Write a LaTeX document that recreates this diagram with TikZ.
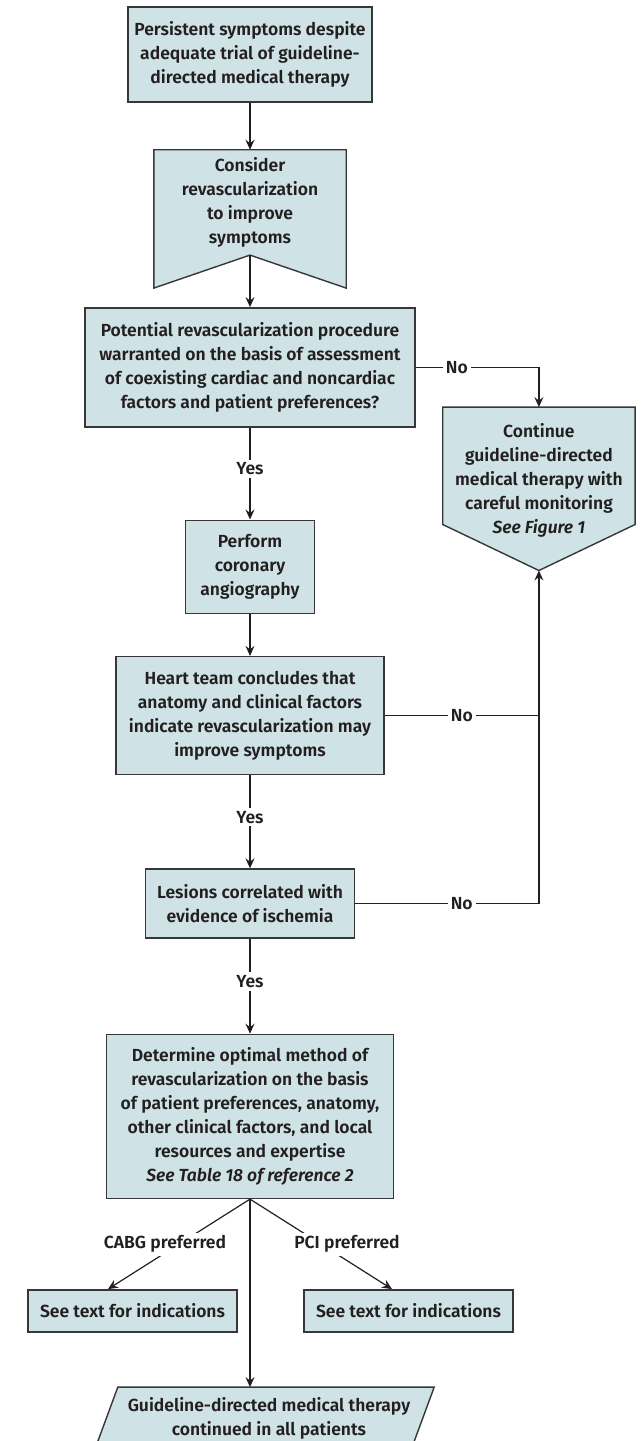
\documentclass[tikz,border=0pt]{standalone}
\usepackage{fontspec}
\setmainfont{Fira Sans}[UprightFont=* SemiBold, ItalicFont=* SemiBold Italic]
\usetikzlibrary{positioning,arrows.meta,backgrounds}
\definecolor{boxfill}{RGB}{207,226,229}
\definecolor{boxline}{RGB}{55,55,55}
\definecolor{inkgray}{RGB}{35,31,32}

\begin{document}
\begin{tikzpicture}[x=1pt, y=-1pt,
                    every node/.style={font=\fontsize{17.5}{24}\selectfont, text=inkgray},
                    main box/.style={rectangle, draw=boxline, fill=boxfill, line width=1.4pt, align=center, inner sep=0pt},
                    flat box/.style={rectangle, align=center, inner sep=0pt},
                    shape line/.style={draw=boxline, fill=boxfill, line width=1.4pt},
                    label node/.style={fill=white, inner sep=3pt},
                    flow/.style={draw=inkgray, line width=1.2pt, -{Stealth[length=10pt,width=9pt,inset=3.5pt]}},
                    plain/.style={draw=inkgray, line width=1.2pt}]
  \useasboundingbox (0,0) rectangle (642,1441);

  \node[main box, minimum width=244pt, minimum height=95pt] (1) at (250,54.5)
    {Persistent symptoms despite\\adequate trial of guideline-\\directed medical therapy};
  \node[flat box, minimum width=192pt, minimum height=105pt] (2) [below=47pt of 1]
    {Consider\\revascularization\\to improve\\symptoms};
  \node[main box, minimum width=330pt, minimum height=119pt] (3) [below=52pt of 2]
    {Potential revascularization procedure\\warranted on the basis of assessment\\of coexisting cardiac and noncardiac\\factors and patient preferences?};
  \node[flat box, minimum width=192pt, minimum height=146pt, anchor=north west] (4) at ([xshift=27pt, yshift=-100pt]3.north east)
    {Continue\\guideline-directed\\medical therapy with\\careful monitoring\\\textit{See Figure 1}};
  \node[main box, minimum width=129pt, minimum height=93pt] (5) [below=92pt of 3]
    {Perform\\coronary\\angiography};
  \node[main box, minimum width=268pt, minimum height=118pt] (6) [below=42pt of 5]
    {Heart team concludes that\\anatomy and clinical factors\\indicate revascularization may\\improve symptoms};
  \node[main box, minimum width=209pt, minimum height=69pt] (7) [below=93pt of 6]
    {Lesions correlated with\\evidence of ischemia};
  \node[main box, minimum width=287pt, minimum height=164pt] (8) [below=95pt of 7]
    {Determine optimal method of\\revascularization on the basis\\of patient preferences, anatomy,\\other clinical factors, and local\\resources and expertise\\\textit{See Table 18 of reference 2}};
  \node[main box, minimum width=209pt, minimum height=42pt] (9) [below=90pt of 8.south, xshift=-117.5pt]
    {See text for indications};
  \node[main box, minimum width=209pt, minimum height=42pt] (10) [below=90pt of 8.south, xshift=158.5pt]
    {See text for indications};
  \node[flat box, minimum width=316pt, minimum height=62pt] (11) [below=188pt of 8.south, xshift=19pt]
    {Guideline-directed medical therapy\\continued in all patients};

  % outlines of the odd shapes
  \begin{scope}[on background layer]
    \path[shape line] (2.north west) -- (2.north east) -- ([yshift=-33pt]2.south east)
      -- (2.south) -- ([yshift=-33pt]2.south west) -- cycle;
    \path[shape line] (4.north west) -- (4.north east) -- ([yshift=29pt]4.south east)
      -- ([yshift=-17pt]4.south) -- ([yshift=29pt]4.south west) -- cycle;
    \path[shape line] ([xshift=7pt]11.north west) -- ([xshift=7pt]11.north east)
      -- ([xshift=-16pt]11.south east) -- ([xshift=-16pt]11.south west) -- cycle;
  \end{scope}

  \coordinate (tip) at ([yshift=-17pt]4.south);

  \path[flow]
    (1) edge (2)
    (2) edge (3)
    (3) edge node[label node, pos=0.45] {Yes} (5)
    (5) edge (6)
    (6) edge node[label node, pos=0.45] {Yes} (7)
    (7) edge node[label node, pos=0.45] {Yes} (8);

  \draw[flow] (8.south) -- (8.south |- 11.north);
  \draw[flow] (8.south) -- node[label node, xshift=-14pt] {CABG preferred} ([xshift=-24.5pt]9.north);
  \draw[flow] (8.south) -- node[label node, xshift=26pt] {PCI preferred} ([xshift=-16.5pt]10.north);

  \draw[flow] (3.east) -| node[label node, pos=0.167] {No} (4.north);
  \draw[plain] (6.east) -- node[label node] {No} (6.east -| tip);
  \draw[flow] (7.east) -| node[label node, pos=0.29] {No} (tip);
\end{tikzpicture}
\end{document}
